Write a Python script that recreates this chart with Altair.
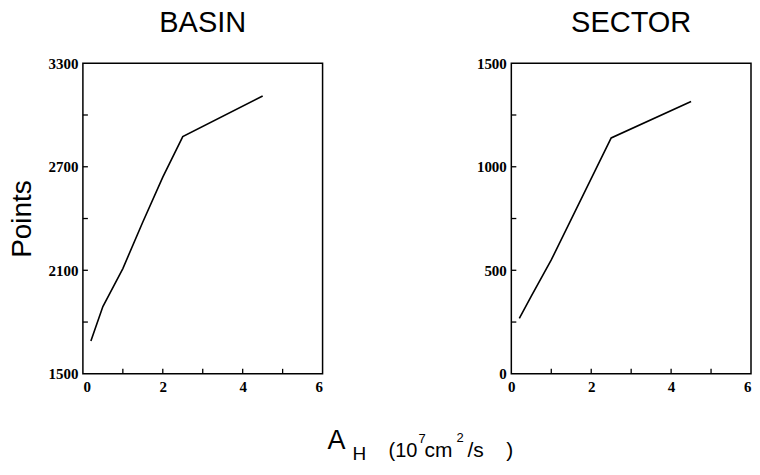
import altair as alt
import pandas as pd

# ---- data ----
basin_x = [0.2, 0.5, 1.0, 1.5, 2.0, 2.5, 4.5]
basin_y = [1690, 1890, 2110, 2380, 2640, 2875, 3110]

sector_x = [0.2, 0.5, 1.0, 2.5, 4.5]
sector_y = [268, 375, 550, 1139, 1315]

x_labels = [0, 2, 4, 6]
x_ticks = [1, 2, 3, 4, 5]
basin_labels = [1500, 2100, 2700, 3300]
basin_ticks = [1800, 2100, 2400, 2700, 3000]
sector_labels = [0, 500, 1000, 1500]
sector_ticks = [250, 500, 750, 1000, 1250]

W, H = 240, 311
LABEL_FONT = "Liberation Serif"
TITLE_FONT = "Liberation Sans"


def panel(xs, ys, ydom, ylabels, yticks, title, ytitle, flush_last=False):
    df = pd.DataFrame({"x": xs, "y": ys})
    xscale = alt.Scale(domain=[0, 6], nice=False, zero=False)
    yscale = alt.Scale(domain=ydom, nice=False, zero=False)
    xkw = {}
    if flush_last:
        xkw["labelAlign"] = {"condition": {"test": "datum.value == 6", "value": "right"},
                             "value": "center"}
    xaxis = alt.Axis(values=x_labels, title=None, ticks=False, domain=False,
                     grid=False, labelFont=LABEL_FONT, labelFontWeight="bold",
                     labelFontSize=15, labelColor="black", labelPadding=6,
                     format="d", **xkw)
    if ytitle:
        ykw = dict(title=ytitle, titleFont=TITLE_FONT, titleFontSize=28,
                   titleFontWeight="normal", titleColor="black", titlePadding=11)
    else:
        ykw = dict(title=None)
    yaxis = alt.Axis(values=ylabels, ticks=False, domain=False,
                     grid=False, labelFont=LABEL_FONT, labelFontWeight="bold",
                     labelFontSize=15, labelColor="black", labelPadding=5,
                     format="d", **ykw)
    line = alt.Chart(df).mark_line(color="black", strokeWidth=1.6).encode(
        x=alt.X("x:Q", scale=xscale, axis=xaxis),
        y=alt.Y("y:Q", scale=yscale, axis=yaxis),
    )
    xt = alt.Chart(pd.DataFrame({"x": x_ticks})).mark_rule(color="black", strokeWidth=1.3).encode(
        x=alt.X("x:Q", scale=xscale, axis=xaxis),
        y=alt.value(H), y2=alt.value(H - 5),
    )
    yt = alt.Chart(pd.DataFrame({"y": yticks})).mark_rule(color="black", strokeWidth=1.3).encode(
        y=alt.Y("y:Q", scale=yscale, axis=yaxis),
        x=alt.value(0), x2=alt.value(5),
    )
    return alt.layer(line, xt, yt).properties(
        width=W, height=H,
        title=alt.TitleParams(title, font=TITLE_FONT, fontSize=29, fontWeight="normal",
                              color="black", anchor="middle", offset=18),
    )


left = panel(basin_x, basin_y, [1500, 3300], basin_labels, basin_ticks, "BASIN", "Points")
right = panel(sector_x, sector_y, [0, 1500], sector_labels, sector_ticks, "SECTOR", None,
              flush_last=True)

top = alt.hconcat(left, right, spacing=152)

# ---- shared x-axis title: A_H (10^7 cm^2/s) ----
base = alt.Chart(pd.DataFrame({"d": [0]}))


def txt(s, size, x, y):
    return base.mark_text(text=s, font=TITLE_FONT, fontSize=size, align="left",
                          baseline="alphabetic", color="black").encode(
        x=alt.value(x), y=alt.value(y))


oy = 400  # page y of bottom chart top
ox = 86   # page x of bottom chart origin (aligned with first plot)
dy = -6
pieces = [
    txt("A", 27, 331 - ox, 458 - oy + dy),
    txt("H", 19, 356 - ox, 469 - oy + dy),
    txt("(10", 20, 392 - ox, 466 - oy + dy),
    txt("7", 13, 422 - ox, 452 - oy + dy),
    txt("cm", 21, 428 - ox, 466 - oy + dy),
    txt("2", 13, 460 - ox, 451 - oy + dy),
    txt("/s", 21, 471 - ox, 466 - oy + dy),
    txt(")", 21, 510 - ox, 466 - oy + dy),
]
bottom = alt.layer(*pieces).properties(
    width=200, height=30, view=alt.ViewBackground(stroke="transparent"))

chart = alt.vconcat(top, bottom, spacing=0).properties(padding=0).configure_view(
    stroke="black", strokeWidth=1.5
)

chart.save("out.html", embed_options={"renderer": "svg", "actions": False})
